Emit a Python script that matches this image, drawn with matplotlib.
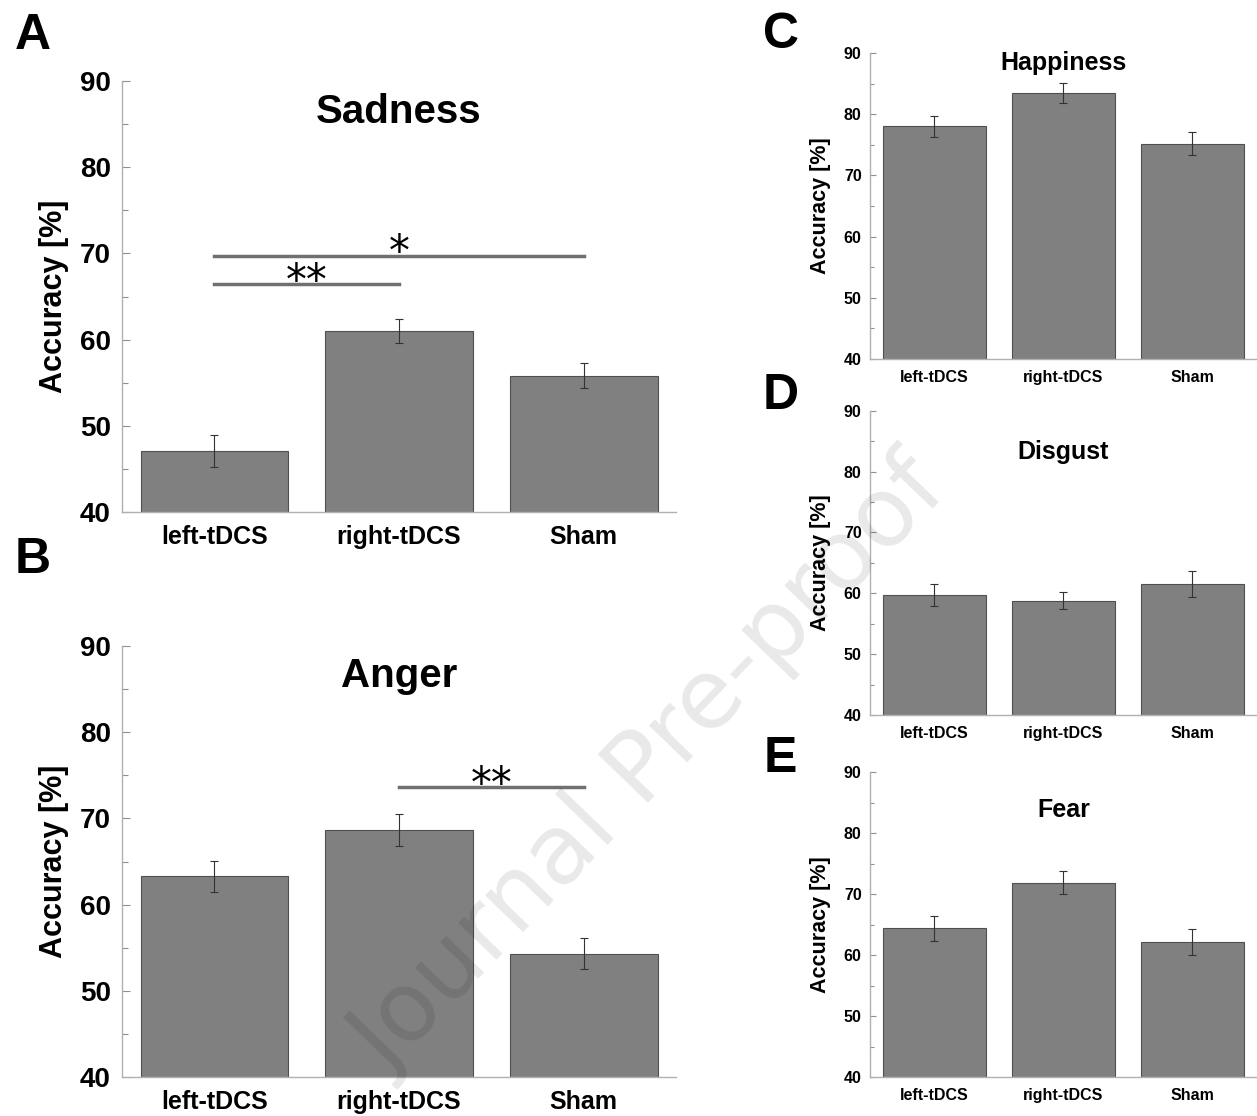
import matplotlib
matplotlib.use("Agg")
import matplotlib.pyplot as plt
import numpy as np
from matplotlib import font_manager

groups = ["left-tDCS", "right-tDCS", "Sham"]

sadness = [47.1, 61.0, 55.8]
sadness_err = [1.85, 1.35, 1.45]
anger = [63.3, 68.7, 54.3]
anger_err = [1.8, 1.85, 1.8]
happiness = [78.0, 83.5, 75.2]
happiness_err = [1.75, 1.65, 1.9]
disgust = [59.7, 58.8, 61.5]
disgust_err = [1.8, 1.4, 2.1]
fear = [64.4, 71.9, 62.2]
fear_err = [2.05, 1.9, 2.1]

# significance bars: (from group, to group, height, label)
sadness_sig = [(0, 2, 69.7, "*"), (0, 1, 66.4, "**")]
anger_sig = [(1, 2, 73.6, "**")]

names = {f.name for f in font_manager.fontManager.ttflist}
narrow = "Liberation Sans Narrow" if "Liberation Sans Narrow" in names else "Liberation Sans"
regular = "Liberation Sans"

fig = plt.figure(figsize=(12.57, 11.16), dpi=100)


def panel(rect, vals, errs, title, title_y, big, sig=()):
    ax = fig.add_axes(rect)
    x = np.arange(1, len(vals) + 1)
    ax.bar(x, vals, width=0.8, color="#808080", edgecolor="#505050", linewidth=0.8, zorder=2)
    ax.errorbar(x, vals, yerr=errs, fmt="none", ecolor="#333333", elinewidth=0.8,
                capsize=3, capthick=0.8, zorder=3)
    ax.set_xlim(0.5, 3.5)
    ax.set_ylim(40, 90)
    ax.set_yticks(range(40, 91, 10))
    ax.set_yticks(range(45, 90, 10), minor=True)
    ax.set_xticks(x)
    for s in ["top", "right"]:
        ax.spines[s].set_visible(False)
    for s in ["left", "bottom"]:
        ax.spines[s].set_color("#b0b0b0")
        ax.spines[s].set_linewidth(1.0)
    ax.tick_params(which="both", direction="in", color="#909090", width=0.8)
    if big:
        tick_font, tick_size, xl_size, yl_size, t_size = narrow, 20, 18, 22, 29
        ax.tick_params(axis="y", which="major", length=6, pad=8)
        ax.tick_params(axis="y", which="minor", length=4)
        ax.tick_params(axis="x", length=6, pad=9)
        lpad = 8
    else:
        tick_font, tick_size, xl_size, yl_size, t_size = regular, 11.5, 11.5, 15.5, 18
        ax.tick_params(axis="y", which="major", length=4, pad=6)
        ax.tick_params(axis="y", which="minor", length=3)
        ax.tick_params(axis="x", length=4, pad=8)
        lpad = 9
    ax.set_yticklabels([str(v) for v in range(40, 91, 10)],
                       fontfamily=tick_font, fontweight="bold", fontsize=tick_size)
    ax.set_xticklabels(groups, fontfamily=tick_font, fontweight="bold", fontsize=xl_size)
    ax.set_ylabel("Accuracy [%]", fontfamily=regular, fontweight="bold", fontsize=yl_size,
                  labelpad=lpad)
    ax.text(2, title_y, title, ha="center", va="center", fontfamily=tick_font,
            fontweight="bold", fontsize=t_size)
    for a, b, h, lab in sig:
        ax.plot([x[a], x[b]], [h, h], color="#707070", lw=2.5, zorder=4)
        ax.text((x[a] + x[b]) / 2, h - 1.1, lab, ha="center", va="baseline",
                fontfamily="DejaVu Sans", fontsize=30, zorder=5)
    return ax


panel([0.0971, 0.5412, 0.4407, 0.3862], sadness, sadness_err, "Sadness", 86.4, True, sadness_sig)
panel([0.0971, 0.0349, 0.4407, 0.3862], anger, anger_err, "Anger", 86.5, True, anger_sig)
panel([0.6921, 0.6783, 0.3079, 0.2742], happiness, happiness_err, "Happiness", 88.3, False)
panel([0.6921, 0.3593, 0.3079, 0.2727], disgust, disgust_err, "Disgust", 83.2, False)
panel([0.6921, 0.0347, 0.3079, 0.2733], fear, fear_err, "Fear", 83.8, False)

letters = [("A", 0.026, 0.968), ("B", 0.026, 0.498), ("C", 0.621, 0.969),
           ("D", 0.621, 0.645), ("E", 0.621, 0.320)]
for lab, lx, ly in letters:
    fig.text(lx, ly, lab, ha="center", va="center", fontfamily=regular,
             fontweight="bold", fontsize=36)

fig.text(0.518, 0.312, "Journal Pre-proof", ha="center", va="center", rotation=46,
         fontfamily="DejaVu Sans", fontweight="normal", fontsize=70,
         color="black", alpha=0.09, zorder=10)

fig.savefig("out.png", dpi=100)
